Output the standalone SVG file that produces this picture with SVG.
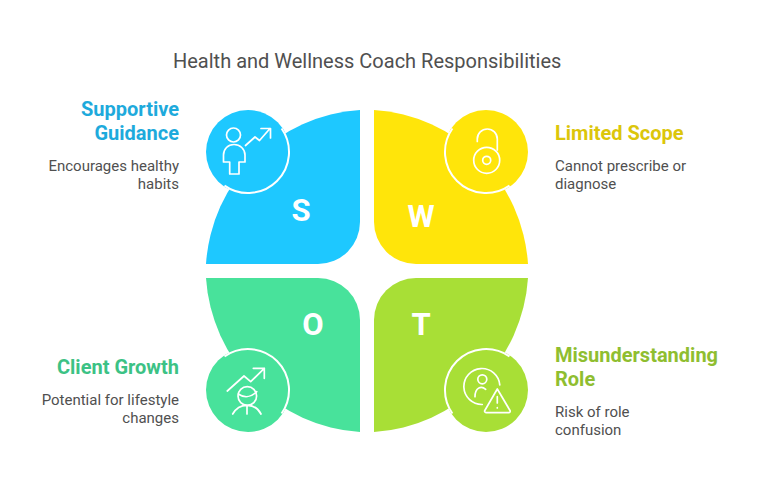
<svg xmlns="http://www.w3.org/2000/svg" width="758" height="494" viewBox="0 0 758 494">
<style>
text{font-family:Roboto,"Liberation Sans",sans-serif}
.title{font-size:20px;fill:#505050}
.head{font-size:20px;font-weight:700}
.body{font-size:15px;fill:#505050}
.letter{font-size:31px;font-weight:700;fill:#fff;text-anchor:middle}
.ring{fill:none;stroke:#fff;stroke-width:2}
.icon{fill:none;stroke:#fff;stroke-width:1.700;stroke-linecap:round;stroke-linejoin:round}
.end{text-anchor:end}
</style>
<rect width="758" height="494" fill="#fff"/>
<text class="title" x="173" y="68">Health and Wellness Coach Responsibilities</text>
<g id="connectors"/>
<g id="node-s">
<path fill="#1ec8ff" d="M360 110V222A42 42 0 0 1 318 264H206A165 165 0 0 1 360 110Z"/>
<circle cx="248" cy="152" r="42" fill="#1ec8ff"/>
<path class="ring" d="M281.600 128.500A41 41 0 0 1 224.500 185.600"/>
<g class="icon"><circle cx="233.500" cy="135" r="7"/><path d="M229.700 162H223.500V155C223.500 149 228 144.500 234 144.500S245 149 245 155V162H239V174H229.700Z"/><path d="M245.500 145.500L255 137L259.500 140.500L270 128.500M261 128.500H270.500V138"/></g>
<text class="letter" x="301" y="220.500">S</text>
<text class="head end" x="179" y="116" fill="#1eaadc">Supportive</text>
<text class="head end" x="179" y="140" fill="#1eaadc">Guidance</text>
<text class="body end" x="179" y="171">Encourages healthy</text>
<text class="body end" x="179" y="189">habits</text>
</g>
<g id="node-w">
<path fill="#ffe50a" d="M374 110V222A42 42 0 0 0 416 264H528A165 165 0 0 0 374 110Z"/>
<circle cx="486" cy="152" r="42" fill="#ffe50a"/>
<path class="ring" d="M452.400 128.500A41 41 0 0 0 509.500 185.600"/>
<g class="icon"><circle cx="486.700" cy="160.300" r="13"/><circle cx="486.700" cy="160.300" r="4"/><path d="M477.300 141.500V139A10 10 0 0 1 497.300 139V150"/></g>
<text class="letter" x="421" y="226.500">W</text>
<text class="head" x="555" y="140" fill="#dcc60a">Limited Scope</text>
<text class="body" x="555" y="171">Cannot prescribe or</text>
<text class="body" x="555" y="189">diagnose</text>
</g>
<g id="node-o">
<path fill="#48e29b" d="M360 432V320A42 42 0 0 0 318 278H206A165 165 0 0 0 360 432Z"/>
<circle cx="248" cy="390" r="42" fill="#48e29b"/>
<path class="ring" d="M281.600 413.500A41 41 0 0 0 224.500 356.400"/>
<g class="icon"><circle cx="247.300" cy="396" r="9.300"/><path d="M238.300 394C244 398 251 397.500 256.700 391.700M232.700 414C236 408 241 405.300 247 405.300S258 408 261 414M247 405.300V414M227.300 391L244 376L250.700 381.700L264.300 368.300M253.300 368.300H264.300V378.300"/></g>
<text class="letter" x="313" y="334.500">O</text>
<text class="head end" x="179" y="374" fill="#3cc285">Client Growth</text>
<text class="body end" x="179" y="405">Potential for lifestyle</text>
<text class="body end" x="179" y="423">changes</text>
</g>
<g id="node-t">
<path fill="#a8df36" d="M374 432V320A42 42 0 0 1 416 278H528A165 165 0 0 1 374 432Z"/>
<circle cx="486" cy="390" r="42" fill="#a8df36"/>
<path class="ring" d="M452.400 413.500A41 41 0 0 1 509.500 356.400"/>
<g class="icon"><circle cx="482.300" cy="379.300" r="4.500"/><path d="M475 396.700C475 388 481 385 485.700 389.300M482.300 404.500A18 18 0 1 1 499.800 385M497.300 389L484.800 410.500A1.500 1.500 0 0 0 486 412.700H509A1.500 1.500 0 0 0 510 410.500ZM497.300 396.700V403M497.300 407.700V408"/></g>
<text class="letter" x="421" y="334.500">T</text>
<text class="head" x="555" y="362" fill="#8fbe30">Misunderstanding</text>
<text class="head" x="555" y="386" fill="#8fbe30">Role</text>
<text class="body" x="555" y="417">Risk of role</text>
<text class="body" x="555" y="435">confusion</text>
</g>
</svg>
